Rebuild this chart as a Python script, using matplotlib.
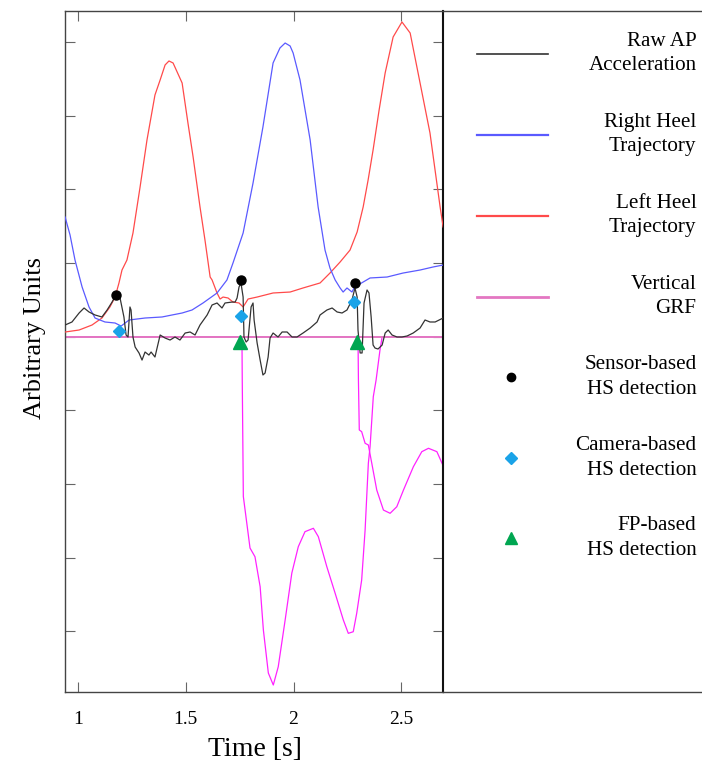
import matplotlib
matplotlib.use("Agg")
import matplotlib.pyplot as plt
from matplotlib.lines import Line2D

plt.rcParams['font.family'] = ['Liberation Serif', 'DejaVu Serif']

# ---------------- data ----------------
time_acc = [0.940, 0.972, 1.005, 1.028, 1.051, 1.079, 1.111, 1.135, 1.158, 1.176,
            1.195, 1.213, 1.223, 1.232, 1.241, 1.246, 1.255, 1.265, 1.283, 1.297,
            1.311, 1.329, 1.339, 1.357, 1.381, 1.404, 1.427, 1.450, 1.473, 1.497,
            1.520, 1.543, 1.566, 1.599, 1.622, 1.645, 1.668, 1.682, 1.715, 1.729,
            1.738, 1.747, 1.756, 1.766, 1.770, 1.780, 1.789, 1.803, 1.812, 1.817,
            1.831, 1.845, 1.858, 1.868, 1.882, 1.891, 1.905, 1.928, 1.947, 1.970,
            1.993, 2.016, 2.044, 2.077, 2.109, 2.123, 2.155, 2.179, 2.202, 2.225,
            2.248, 2.271, 2.285, 2.295, 2.299, 2.309, 2.318, 2.327, 2.341, 2.350,
            2.360, 2.369, 2.378, 2.392, 2.411, 2.425, 2.439, 2.457, 2.480, 2.503,
            2.527, 2.555, 2.587, 2.610, 2.633, 2.657, 2.694]
raw_ap_acc = [0.159, 0.200, 0.322, 0.390, 0.336, 0.295, 0.268, 0.363, 0.471, 0.567,
              0.526, 0.268, 0.023, -0.004, 0.404, 0.363, -0.004, -0.140, -0.221, -0.317,
              -0.208, -0.249, -0.208, -0.276, 0.023, -0.018, -0.045, -0.004, -0.045, 0.050,
              0.064, 0.023, 0.159, 0.295, 0.431, 0.458, 0.390, 0.458, 0.471, 0.471,
              0.526, 0.675, 0.730, 0.539, -0.004, -0.072, -0.045, 0.404, 0.458, 0.227,
              -0.086, -0.317, -0.520, -0.493, -0.276, -0.018, 0.050, -0.004, 0.064, 0.064,
              -0.004, -0.004, 0.050, 0.118, 0.200, 0.295, 0.363, 0.390, 0.336, 0.322,
              0.363, 0.499, 0.662, 0.539, 0.091, -0.221, -0.221, 0.458, 0.635, 0.594,
              0.268, -0.113, -0.154, -0.167, -0.113, 0.050, 0.091, 0.023, -0.004, -0.004,
              0.010, 0.050, 0.118, 0.227, 0.200, 0.200, 0.254]

time_right = [0.940, 0.963, 0.986, 1.019, 1.051, 1.079, 1.125, 1.172, 1.200, 1.237,
              1.311, 1.390, 1.436, 1.483, 1.529, 1.580, 1.645, 1.691, 1.719, 1.766,
              1.812, 1.858, 1.905, 1.937, 1.961, 1.984, 1.998, 2.030, 2.077, 2.114,
              2.146, 2.169, 2.193, 2.216, 2.230, 2.248, 2.271, 2.281, 2.299, 2.323,
              2.355, 2.434, 2.508, 2.587, 2.647, 2.694]
right_heel = [1.627, 1.382, 1.042, 0.675, 0.404, 0.254, 0.200, 0.186, 0.145, 0.227,
              0.254, 0.268, 0.295, 0.322, 0.363, 0.458, 0.594, 0.771, 1.001, 1.409,
              2.088, 2.850, 3.719, 3.923, 3.990, 3.950, 3.855, 3.488, 2.673, 1.763,
              1.177, 0.933, 0.771, 0.662, 0.607, 0.662, 0.607, 0.662, 0.702, 0.743,
              0.798, 0.811, 0.865, 0.906, 0.947, 0.974]

time_left = [0.940, 1.005, 1.065, 1.111, 1.148, 1.172, 1.190, 1.204, 1.227, 1.255,
             1.288, 1.320, 1.357, 1.381, 1.404, 1.422, 1.441, 1.483, 1.510, 1.534,
             1.566, 1.589, 1.613, 1.622, 1.645, 1.659, 1.673, 1.696, 1.719, 1.747,
             1.766, 1.789, 1.831, 1.905, 1.984, 2.044, 2.123, 2.169, 2.216, 2.262,
             2.295, 2.323, 2.346, 2.369, 2.397, 2.425, 2.462, 2.503, 2.541, 2.587,
             2.633, 2.680, 2.694]
left_heel = [0.064, 0.091, 0.159, 0.254, 0.404, 0.539, 0.730, 0.906, 1.042, 1.409,
             2.035, 2.673, 3.284, 3.488, 3.692, 3.746, 3.719, 3.447, 2.904, 2.442,
             1.763, 1.314, 0.811, 0.771, 0.594, 0.512, 0.539, 0.526, 0.471, 0.458,
             0.404, 0.512, 0.539, 0.594, 0.607, 0.662, 0.730, 0.865, 1.015, 1.177,
             1.423, 1.763, 2.130, 2.537, 3.080, 3.583, 4.072, 4.276, 4.126, 3.447,
             2.768, 1.763, 1.491]

time_fp1 = [0.940, 1.752, 1.756, 1.761, 1.762, 1.767, 1.798, 1.821, 1.845, 1.860,
            1.883, 1.906, 1.929, 1.961, 1.992, 2.022, 2.053, 2.092, 2.115, 2.154,
            2.193, 2.231, 2.254, 2.277, 2.293, 2.316, 2.332, 2.347, 2.355, 2.370,
            2.383, 2.401, 2.411, 2.694]
grf_fp1 = [0, 0, 0, -0.181, -0.588, -2.170, -2.871, -2.989, -3.397, -3.985,
           -4.569, -4.732, -4.484, -3.849, -3.211, -2.853, -2.649, -2.603, -2.717, -3.121,
           -3.486, -3.849, -4.030, -4.008, -3.758, -3.306, -2.626, -1.720, -1.495, -0.815,
           -0.588, -0.181, 0, 0]

time_fp2 = [0.940, 2.299, 2.301, 2.305, 2.316, 2.332, 2.347, 2.363, 2.386, 2.417,
            2.448, 2.479, 2.510, 2.556, 2.595, 2.626, 2.665, 2.696]
grf_fp2 = [0, 0, -0.588, -1.267, -1.290, -1.448, -1.471, -1.720, -2.083, -2.355,
           -2.399, -2.310, -2.083, -1.766, -1.562, -1.516, -1.562, -1.766]

sensor_hs_t = [1.176, 1.756, 2.285]
sensor_hs_v = [0.567, 0.771, 0.730]
camera_hs_t = [1.190, 1.756, 2.281]
camera_hs_v = [0.077, 0.281, 0.471]
fp_hs_t = [1.752, 2.295]
fp_hs_v = [-0.077, -0.072]

x_ticks = [1, 1.5, 2, 2.5]
x_tick_labels = ['1', '1.5', '2', '2.5']
y_ticks = [-4, -3, -2, -1, 0, 1, 2, 3, 4]

legend_labels = ['Raw AP\nAcceleration', 'Right Heel\nTrajectory', 'Left Heel\nTrajectory',
                 'Vertical\nGRF', 'Sensor-based\nHS detection', 'Camera-based\nHS detection',
                 'FP-based\nHS detection']

# ---------------- styles ----------------
C_ACC = '#333333'
C_RIGHT = '#5a5aff'
C_LEFT = '#ff4a4a'
C_GRF = '#ff22ff'
C_GRF_BASE = '#e377c2'
C_SENSOR = '#000000'
C_CAMERA = '#1aa3e8'
C_FP = '#00a651'

W, H = 702, 767
fig = plt.figure(figsize=(W / 100, H / 100), dpi=100)

ax_l, ax_r, ax_t, ax_b = 65.3, 442.7, 11.3, 692.0
ax = fig.add_axes([ax_l / W, 1 - ax_b / H, (ax_r - ax_l) / W, (ax_b - ax_t) / H])

ax.plot(time_fp1, grf_fp1, color=C_GRF, lw=0.9, zorder=2)
ax.plot(time_fp2, grf_fp2, color=C_GRF, lw=0.9, zorder=2)
ax.axhline(0, color=C_GRF_BASE, lw=1.4, zorder=2.5)
ax.plot(time_left, left_heel, color=C_LEFT, lw=0.9, zorder=3)
ax.plot(time_right, right_heel, color=C_RIGHT, lw=0.9, zorder=3)
ax.plot(time_acc, raw_ap_acc, color=C_ACC, lw=0.9, zorder=4)
ax.plot(sensor_hs_t, sensor_hs_v, 'o', color=C_SENSOR, ms=6.5, zorder=6, ls='none')
ax.plot(camera_hs_t, camera_hs_v, 'D', color=C_CAMERA, ms=6, zorder=6, ls='none')
ax.plot(fp_hs_t, fp_hs_v, '^', color=C_FP, ms=9.5, zorder=6, ls='none')

ax.set_xlim(0.941, 2.692)
ax.set_ylim(-4.827, 4.421)
ax.set_xticks(x_ticks)
ax.set_xticklabels(x_tick_labels)
ax.set_yticks(y_ticks)
ax.set_yticklabels([])
ax.tick_params(direction='in', length=7, width=0.8, color='#666666',
               top=True, right=True, labelsize=14, pad=14)
for s in ['left', 'bottom', 'top']:
    ax.spines[s].set_color('#444444')
    ax.spines[s].set_linewidth(1.0)
ax.spines['right'].set_color('#111111')
ax.spines['right'].set_linewidth(1.5)

fig.text(35 / W, 1 - 338 / H, 'Arbitrary Units', rotation=90, fontsize=19,
         ha='center', va='center')
fig.text(255 / W, 1 - 749 / H, 'Time [s]', fontsize=20, ha='center', va='center')

# ---------------- legend panel ----------------
lax = fig.add_axes([ax_r / W, 1 - ax_b / H, (W + 5 - ax_r) / W, (ax_b - ax_t) / H])
lax.set_xlim(0, 1)
lax.set_ylim(0, 1)
lax.set_xticks([])
lax.set_yticks([])
lax.patch.set_alpha(0)
lax.spines['left'].set_visible(False)
lax.spines['right'].set_visible(False)
for s in ['top', 'bottom']:
    lax.spines[s].set_color('#444444')
    lax.spines[s].set_linewidth(1.0)

row_y = [0.938, 0.819, 0.700, 0.581, 0.4626, 0.3436, 0.226]
hx0, hx1, hxm, tx = 0.131, 0.398, 0.259, 0.960
handles = [
    dict(color=C_ACC, lw=1.2),
    dict(color=C_RIGHT, lw=1.6),
    dict(color=C_LEFT, lw=1.6),
    dict(color=C_GRF_BASE, lw=2.0),
]
for i, h in enumerate(handles):
    lax.add_line(Line2D([hx0, hx1], [row_y[i], row_y[i]], **h))
lax.plot([hxm], [row_y[4]], 'o', color=C_SENSOR, ms=6)
lax.plot([hxm], [row_y[5]], 'D', color=C_CAMERA, ms=6.5)
lax.plot([hxm], [row_y[6]], '^', color=C_FP, ms=9)
for i, lab in enumerate(legend_labels):
    lax.text(tx, row_y[i], lab, ha='right', va='center', fontsize=15.2,
             multialignment='right', linespacing=1.4)

fig.savefig('out.png', dpi=100)
